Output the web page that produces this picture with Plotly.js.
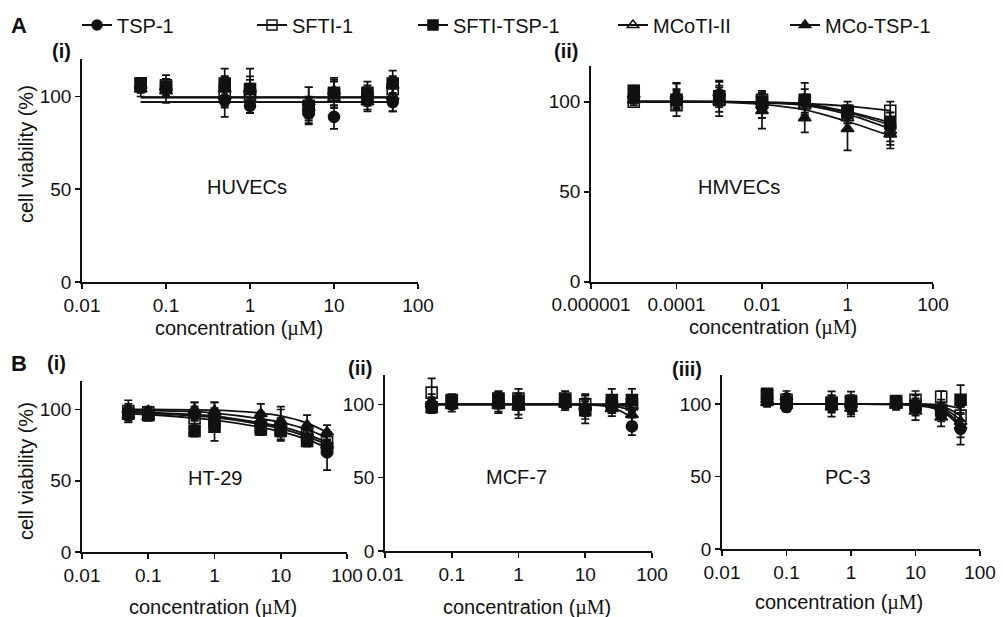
<!DOCTYPE html>
<html>
<head>
<meta charset="utf-8">
<script src="https://cdn.plot.ly/plotly-3.0.1.min.js"></script>
<style>html,body{margin:0;padding:0;background:#fff;}#chart{width:1003px;height:617px;}</style>
</head>
<body>
<div id="chart"></div>
<script>
// ---------- data ----------
const seriesNames = ['TSP-1', 'SFTI-1', 'SFTI-TSP-1', 'MCoTI-II', 'MCo-TSP-1'];
const seriesSymbols = ['circle', 'square-open', 'square', 'triangle-up-open', 'triangle-up'];

const conc = [0.05, 0.1, 0.5, 1, 5, 10, 25, 50];           // µM (HUVEC, HT-29, MCF-7, PC-3)
const concHMVEC = [0.00001, 0.0001, 0.001, 0.01, 0.1, 1, 10]; // µM (HMVEC)

const xTickVals = [0.01, 0.1, 1, 10, 100];
const xTickText = ['0.01', '0.1', '1', '10', '100'];
const xTickValsHMVEC = [0.000001, 0.0001, 0.01, 1, 100];
const xTickTextHMVEC = ['0.000001', '0.0001', '0.01', '1', '100'];
const yTickVals = [0, 50, 100];

// A(i) HUVECs  (rows: TSP-1, SFTI-1, SFTI-TSP-1, MCoTI-II, MCo-TSP-1)
const huvecMean = [
  [105, 104, 98, 95, 91, 89, 98, 97],
  [107, 106, 103, 101, 93, 101, 100, 104],
  [107, 105, 107, 104, 95, 102, 102, 107],
  [104, 103, 100, 101, 97, 99, 97, 100],
  [106, 105, 104, 104, 94, 103, 101, 106]
];
const huvecErr = [
  [3, 4, 9, 4, 5.4, 6.4, 5, 5],
  [3, 5.5, 8, 9.8, 6, 7, 5, 6],
  [2, 3, 8, 11, 10, 8, 6, 7],
  [4, 6.5, 6, 6, 8, 5, 5, 8],
  [2, 3, 6, 5, 6, 6, 5, 5]
];
const huvecFit = [
  [97, 97, 97, 97, 97, 97, 97, 97],
  [99.5, 99.5, 99.5, 99.5, 99.5, 99.5, 99.5, 99.5],
  [99.5, 99.5, 99.5, 99.5, 99.5, 99.5, 99.5, 99.5],
  [97, 97, 97, 97, 97, 97, 97, 97],
  [99.5, 99.5, 99.5, 99.5, 99.5, 99.5, 99.5, 99.5]
];

// A(ii) HMVECs
const hmvecMean = [
  [102, 102, 104, 97, 100, 93, 86],
  [100, 98, 101, 101, 99, 95, 95],
  [106, 101, 103, 100, 101, 94, 88],
  [101, 103, 100, 98, 98, 91, 84],
  [104, 104, 105, 95, 91, 85, 82]
];
const hmvecErr = [
  [3, 5, 5, 6, 7, 5, 8],
  [2, 6, 4, 5, 5, 3, 5],
  [3, 5, 8.7, 4, 9.5, 6, 6],
  [2, 7.5, 8, 7, 6, 6, 10],
  [3, 6, 6, 10, 8, 12, 6]
];
const hmvecFit = [
  [100, 100, 100, 99.5, 98.5, 94, 87],
  [100, 100, 100, 99.8, 99, 97.5, 95],
  [100, 100, 100, 99.6, 98.8, 94.5, 88.5],
  [100, 100, 99.9, 99.4, 98, 93, 85],
  [100, 100, 99.8, 98.5, 95.5, 89, 81]
];

// B(i) HT-29
const ht29Mean = [
  [98, 97, 97, 95, 90, 88, 80, 70],
  [99, 98, 94, 92, 88, 86, 82, 77],
  [97, 96, 85, 88, 86, 85, 78, 73],
  [100, 99, 99, 97, 92, 90, 84, 75],
  [96, 95, 100, 99, 97, 92, 89, 84]
];
const ht29Err = [
  [4, 3, 5, 6, 5, 6, 5, 12.5],
  [5, 3, 6, 7, 5, 5, 4, 6],
  [5, 3, 4, 10, 4, 6, 4, 5],
  [6.5, 3, 6, 8, 6, 12, 4, 7],
  [5, 3, 5, 6, 7, 8, 7, 5]
];
const ht29Fit = [
  [98.5, 98, 96.5, 95.5, 90.5, 88, 82.5, 77],
  [98, 97.5, 95.5, 94.5, 89.5, 86.5, 81, 75.5],
  [97, 96.5, 94, 92.5, 87.5, 84.5, 79, 73],
  [99.5, 99.3, 98.5, 97.5, 93.5, 91, 86, 80],
  [100, 100, 99.8, 99.5, 97.5, 95.5, 90.5, 84]
];

// B(ii) MCF-7
const mcf7Mean = [
  [99, 100, 101, 100, 102, 97, 99, 85],
  [108, 102, 103, 104, 104, 100, 99, 100],
  [98, 103, 104, 102, 103, 96, 103, 103],
  [102, 101, 99, 99, 100, 99, 100, 99],
  [100, 99, 100, 98, 101, 98, 97, 93]
];
const mcf7Err = [
  [4, 3, 4, 4, 4, 10, 5, 6],
  [9.7, 4, 5, 6.5, 5, 4, 5, 5],
  [4, 4, 5, 5, 4, 6, 7.5, 7.5],
  [5, 4, 5, 8.5, 4, 7, 6, 6],
  [5, 4, 5, 5, 4, 5, 5, 5]
];
const mcf7Fit = [
  [100, 100, 100, 100, 100, 99.6, 98, 91],
  [100, 100, 100, 100, 100, 100, 100, 100],
  [100, 100, 100, 100, 100, 100, 100, 100.5],
  [100, 100, 100, 100, 100, 100, 99.5, 98.5],
  [100, 100, 100, 100, 100, 99.8, 99, 96]
];

// B(iii) PC-3
const pc3Mean = [
  [104, 98, 99, 98, 100, 97, 93, 83],
  [107, 103, 101, 101, 102, 103, 105, 92],
  [106, 101, 100, 102, 101, 99, 96, 103],
  [103, 99, 98, 100, 99, 95, 98, 88],
  [101, 105, 102, 97, 100, 101, 91, 85]
];
const pc3Err = [
  [3, 3, 4, 4, 3, 5, 5, 6],
  [3, 4, 5, 5, 3, 6, 4, 6],
  [3, 4, 8.7, 4, 3, 5, 5, 10],
  [3, 4, 4, 8.5, 3, 6, 5, 6],
  [3, 4, 4, 4, 3, 5, 6.4, 13]
];
const pc3Fit = [
  [100, 100, 100, 100, 99.8, 99, 95.5, 84],
  [100, 100, 100, 100, 100, 99.8, 98.5, 92],
  [100, 100, 100, 100, 100, 100, 99.5, 97],
  [100, 100, 100, 100, 99.9, 99.5, 97.5, 89],
  [100, 100, 100, 100, 99.8, 99.3, 96.5, 86]
];

// ---------- build ----------
const INK = '#111';
const FONT = '"Liberation Sans", Arial, Helvetica, sans-serif';

const panels = [
  {x: conc, mean: huvecMean, err: huvecErr, fit: huvecFit, xa: 'x', ya: 'y'},
  {x: concHMVEC, mean: hmvecMean, err: hmvecErr, fit: hmvecFit, xa: 'x2', ya: 'y2'},
  {x: conc, mean: ht29Mean, err: ht29Err, fit: ht29Fit, xa: 'x3', ya: 'y3'},
  {x: conc, mean: mcf7Mean, err: mcf7Err, fit: mcf7Fit, xa: 'x4', ya: 'y4'},
  {x: conc, mean: pc3Mean, err: pc3Err, fit: pc3Fit, xa: 'x5', ya: 'y5'}
];

const traces = [];
panels.forEach(p => {
  for (let s = 0; s < seriesNames.length; s++) {
    traces.push({
      type: 'scatter', mode: 'lines', x: p.x, y: p.fit[s], xaxis: p.xa, yaxis: p.ya,
      line: {color: INK, width: 1.8, shape: 'spline', smoothing: 1},
      showlegend: false, hoverinfo: 'skip'
    });
  }
  for (let s = 0; s < seriesNames.length; s++) {
    traces.push({
      type: 'scatter', mode: 'markers', x: p.x, y: p.mean[s], xaxis: p.xa, yaxis: p.ya,
      name: seriesNames[s],
      marker: {symbol: seriesSymbols[s], size: 11, color: INK, line: {color: INK, width: 1.6}},
      error_y: {type: 'data', array: p.err[s], visible: true, color: INK, thickness: 1.7, width: 4},
      showlegend: false
    });
  }
});

// legend entries (one legend per entry so they can be spaced like the original)
const legendIds = ['legend', 'legend2', 'legend3', 'legend4', 'legend5'];
for (let s = 0; s < seriesNames.length; s++) {
  traces.push({
    type: 'scatter', mode: 'lines+markers', x: [null], y: [null], xaxis: 'x', yaxis: 'y',
    name: seriesNames[s], legend: legendIds[s], showlegend: true,
    marker: {symbol: seriesSymbols[s], size: 10, color: INK, line: {color: INK, width: 1.5}},
    line: {color: INK, width: 1.8}, hoverinfo: 'skip'
  });
}

const W = 1003, H = 617;
const px = v => v / W;
const py = v => 1 - v / H;

function xAxis(l, r, vals, text, range, anchor) {
  return {
    type: 'log', domain: [px(l), px(r)], range: range, anchor: anchor,
    tickmode: 'array', tickvals: vals, ticktext: text,
    showline: true, linecolor: INK, linewidth: 1.8,
    ticks: 'outside', ticklen: 5, tickwidth: 1.6, tickcolor: INK,
    showgrid: false, zeroline: false, fixedrange: true,
    tickfont: {family: FONT, size: 19, color: INK}
  };
}
function yAxis(top, bottom, anchor) {
  return {
    domain: [py(bottom), py(top)], range: [0, 120], anchor: anchor,
    tickmode: 'array', tickvals: yTickVals,
    showline: true, linecolor: INK, linewidth: 1.8,
    ticks: 'outside', ticklen: 5, tickwidth: 1.6, tickcolor: INK,
    showgrid: false, zeroline: false, fixedrange: true,
    tickfont: {family: FONT, size: 19, color: INK}
  };
}

const legendBase = {
  orientation: 'h', yanchor: 'middle', xanchor: 'left', y: py(25),
  itemwidth: 30, bgcolor: 'rgba(0,0,0,0)', borderwidth: 0,
  font: {family: FONT, size: 20, color: INK}, itemclick: false, itemdoubleclick: false
};
const legendX = [77, 252, 413, 613, 785];

const mu = '<span style="font-family:\'Liberation Serif\',\'Times New Roman\',serif">µM</span>';
const xTitle = 'concentration (' + mu + ')';

function paperText(text, x, y, size, bold, angle) {
  return {
    xref: 'paper', yref: 'paper', x: px(x), y: py(y), xanchor: 'center', yanchor: 'middle',
    text: bold ? '<b>' + text + '</b>' : text, showarrow: false, textangle: angle || 0,
    font: {family: FONT, size: size, color: INK}
  };
}
function cellLabel(text, xa, ya, logx, y) {
  return {
    xref: xa, yref: ya, x: logx, y: y, xanchor: 'center', yanchor: 'middle',
    text: text, showarrow: false, font: {family: FONT, size: 20, color: INK}
  };
}

const layout = {
  width: W, height: H, margin: {l: 0, r: 0, t: 0, b: 0, pad: 0},
  paper_bgcolor: '#fff', plot_bgcolor: 'rgba(0,0,0,0)',
  font: {family: FONT, color: INK},
  showlegend: true,
  xaxis: xAxis(82, 418, xTickVals, xTickText, [-2, 2], 'y'),
  yaxis: yAxis(59.4, 282, 'x'),
  xaxis2: xAxis(591, 933, xTickValsHMVEC, xTickTextHMVEC, [-6, 2], 'y2'),
  yaxis2: yAxis(65.7, 281.7, 'x2'),
  xaxis3: xAxis(82, 347, xTickVals, xTickText, [-2, 2], 'y3'),
  yaxis3: yAxis(381, 552, 'x3'),
  xaxis4: xAxis(385, 652, xTickVals, xTickText, [-2, 2], 'y4'),
  yaxis4: yAxis(375, 551, 'x4'),
  xaxis5: xAxis(722, 980, xTickVals, xTickText, [-2, 2], 'y5'),
  yaxis5: yAxis(375, 549.3, 'x5'),
  annotations: [
    paperText('A', 19, 25, 22, true),
    paperText('(i)', 61, 51, 20, true),
    paperText('(ii)', 566, 51, 20, true),
    paperText('B', 19, 363, 22, true),
    paperText('(i)', 56, 363, 20, true),
    paperText('(ii)', 360, 368, 20, true),
    paperText('(iii)', 687, 369, 20, true),
    paperText('cell viability (%)', 26, 154, 20, false, -90),
    paperText('cell viability (%)', 26, 471, 20, false, -90),
    paperText(xTitle, 239, 328, 20, false),
    paperText(xTitle, 773, 327, 20, false),
    paperText(xTitle, 213, 607, 20, false),
    paperText(xTitle, 527, 607, 20, false),
    paperText(xTitle, 839, 602, 20, false),
    cellLabel('HUVECs', 'x', 'y', -0.03, 51),
    cellLabel('HMVECs', 'x2', 'y2', -2.54, 52.8),
    cellLabel('HT-29', 'x3', 'y3', 0.015, 52),
    cellLabel('MCF-7', 'x4', 'y4', -0.03, 50.4),
    cellLabel('PC-3', 'x5', 'y5', -0.05, 50)
  ]
};
legendIds.forEach((id, i) => {
  layout[id] = Object.assign({}, legendBase, {x: px(legendX[i])});
});

Plotly.newPlot('chart', traces, layout, {staticPlot: true, displayModeBar: false});
</script>
</body>
</html>
